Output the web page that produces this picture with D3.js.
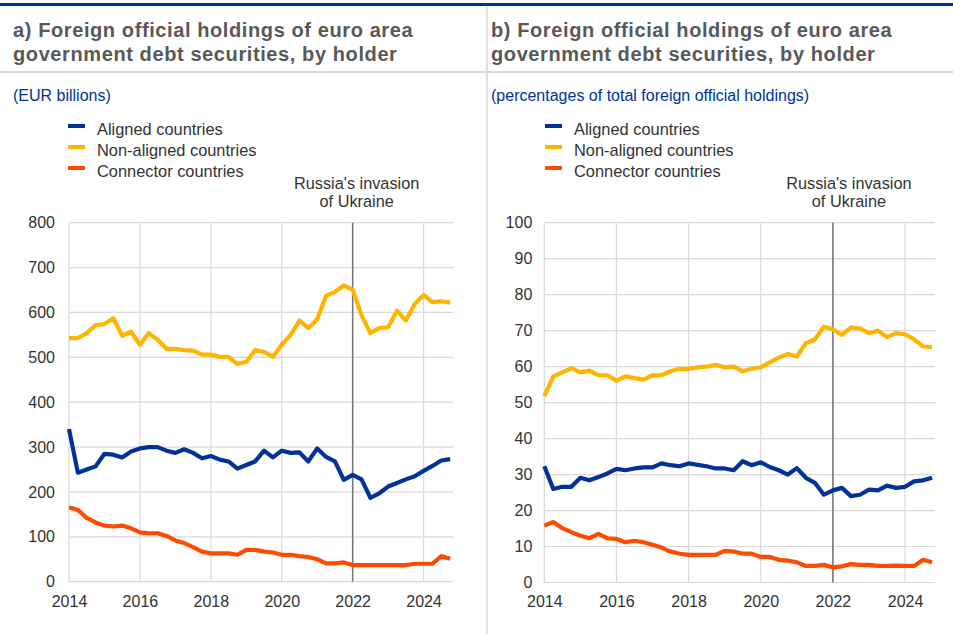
<!DOCTYPE html>
<html>
<head>
<meta charset="utf-8">
<script src="https://cdn.jsdelivr.net/npm/d3@7"></script>
<style>
body{margin:0;background:#fff;font-family:Arial,"Liberation Sans",sans-serif;}
</style>
</head>
<body>
<svg id="chart" width="953" height="634"></svg>
<script>
// quarterly observations, 2014 Q1 - 2024 Q4
const quarters = [
	"2014Q1","2014Q2","2014Q3","2014Q4","2015Q1","2015Q2","2015Q3","2015Q4",
	"2016Q1","2016Q2","2016Q3","2016Q4","2017Q1","2017Q2","2017Q3","2017Q4",
	"2018Q1","2018Q2","2018Q3","2018Q4","2019Q1","2019Q2","2019Q3","2019Q4",
	"2020Q1","2020Q2","2020Q3","2020Q4","2021Q1","2021Q2","2021Q3","2021Q4",
	"2022Q1","2022Q2","2022Q3","2022Q4","2023Q1","2023Q2","2023Q3","2023Q4",
	"2024Q1","2024Q2","2024Q3","2024Q4"]

const seriesNames = ['Aligned countries','Non-aligned countries','Connector countries']
const seriesColours = ['#003299','#ffb400','#ff4b00']

// panel a) EUR billions
const alignedBn = [340,243,250,257,285,283,277,290,297,300,300,292,287,295,287,275,
	280,272,268,252,260,268,292,277,292,287,288,268,297,278,268,227,
	238,228,187,197,212,220,228,235,247,258,270,273]
const nonAlignedBn = [543,543,554,572,574,587,548,557,528,554,539,519,519,516,515,506,
	506,501,501,485,490,516,512,501,528,550,582,565,585,637,646,660,
	651,594,554,565,567,604,582,619,639,623,625,622]
const connectorBn = [166,160,142,132,125,123,125,119,110,108,108,102,92,86,77,67,
	63,63,63,60,71,71,67,65,60,60,57,55,50,41,41,43,
	37,37,37,37,37,37,37,40,40,40,57,51]

// panel b) percentages of total foreign official holdings
const alignedPct = [32.3,26.0,26.6,26.6,29.1,28.4,29.3,30.3,31.6,31.2,31.7,32.0,32.0,33.1,32.6,32.3,
	33.1,32.7,32.3,31.7,31.7,31.2,33.7,32.6,33.4,32.1,31.2,30.0,31.8,29.1,27.7,24.4,
	25.6,26.3,24.0,24.4,25.8,25.6,26.9,26.3,26.6,28.1,28.4,29.1]
const nonAlignedPct = [51.8,57.3,58.4,59.6,58.4,58.9,57.6,57.6,56.1,57.3,56.8,56.4,57.6,57.6,58.7,59.4,
	59.4,59.8,60.0,60.5,59.8,60.0,58.7,59.4,59.8,61.2,62.5,63.5,62.8,66.5,67.6,71.1,
	70.4,68.8,70.9,70.6,69.3,70.0,68.2,69.3,69.0,67.6,65.6,65.4]
const connectorPct = [15.8,16.8,15.1,14.0,13.0,12.3,13.5,12.3,12.1,11.2,11.6,11.2,10.5,9.7,8.6,8.0,
	7.7,7.7,7.7,7.7,8.8,8.6,8.0,8.0,7.1,7.1,6.3,6.1,5.6,4.6,4.6,4.9,
	4.2,4.5,5.1,4.9,4.9,4.6,4.6,4.7,4.6,4.6,6.3,5.6]

const yearTicks = [2014,2016,2018,2020,2022,2024]
const ticksBn = [0,100,200,300,400,500,600,700,800]
const ticksPct = [0,10,20,30,40,50,60,70,80,90,100]
const invasionYear = 2022
const invasionLabel = ["Russia's invasion","of Ukraine"]

const titleLines = ['Foreign official holdings of euro area','government debt securities, by holder']

function quarterToYear(q){
	return parseInt(q.slice(0,4)) + (parseInt(q.slice(5))-1)/4
}

let svg = d3.select('#chart')

// top rule, header rule, panel separator
svg.append('rect').attr('x',0).attr('y',3).attr('width',953).attr('height',3).attr('fill','#003299')
svg.append('line').attr('x1',0).attr('x2',953).attr('y1',72).attr('y2',72)
	.attr('stroke','#d9d9d9').attr('stroke-width',2)
svg.append('line').attr('x1',487).attr('x2',487).attr('y1',7).attr('y2',634)
	.attr('stroke','#d9d9d9').attr('stroke-width',1.5)

function drawPanel(opts){
	let g = svg.append('g')

	// title
	let title = g.append('text').attr('x',opts.titleX).attr('y',36.5)
		.attr('fill','#595959').attr('font-size','20px').attr('font-weight','bold')
		.attr('letter-spacing','0.6px')
	title.append('tspan').attr('x',opts.titleX).text(opts.letter+') '+titleLines[0])
	title.append('tspan').attr('x',opts.titleX).attr('dy',24).text(titleLines[1])

	g.append('text').attr('x',opts.titleX).attr('y',100.5)
		.attr('fill','#003299').attr('font-size','16px').text(opts.unit)

	let x = d3.scaleLinear().domain([2014,2024.83]).range([opts.x0,opts.x1])
	let y = d3.scaleLinear().domain([0,opts.ticks[opts.ticks.length-1]]).range([opts.yBot,opts.yTop])

	// gridlines
	g.selectAll('.hgrid').data(opts.ticks).enter().append('line')
		.attr('x1',opts.x0).attr('x2',opts.x1)
		.attr('y1',d=>y(d)).attr('y2',d=>y(d))
		.attr('stroke','#d9d9d9').attr('stroke-width',1.2)
	g.selectAll('.vgrid').data(yearTicks).enter().append('line')
		.attr('x1',d=>x(d)).attr('x2',d=>x(d))
		.attr('y1',opts.yTop).attr('y2',opts.yBot)
		.attr('stroke','#d9d9d9').attr('stroke-width',1.2)

	// y axis labels
	let yAxis = d3.axisLeft(y).tickValues(opts.ticks).tickSize(0).tickPadding(0)
	let ya = g.append('g').attr('transform','translate('+(opts.x0-opts.yLabelGap)+',0)').call(yAxis)
	ya.select('.domain').remove()
	ya.selectAll('text').attr('font-size','16px').attr('fill','#333')
		.attr('font-family','Arial,"Liberation Sans",sans-serif')

	// x axis labels
	let xAxis = d3.axisBottom(x).tickValues(yearTicks).tickFormat(d3.format('d')).tickSize(0).tickPadding(0)
	let xa = g.append('g').attr('transform','translate(0,'+(opts.yBot+13.5)+')').call(xAxis)
	xa.select('.domain').remove()
	xa.selectAll('text').attr('font-size','16px').attr('fill','#333')
		.attr('font-family','Arial,"Liberation Sans",sans-serif')

	// invasion marker
	g.append('line').attr('x1',x(invasionYear)).attr('x2',x(invasionYear))
		.attr('y1',opts.yTop).attr('y2',opts.yBot)
		.attr('stroke','#757575').attr('stroke-width',1.5)
	let ann = g.append('text').attr('text-anchor','middle').attr('font-size','16.3px').attr('fill','#333')
		.attr('y',188.5)
	ann.append('tspan').attr('x',x(invasionYear)+opts.annShift).text(invasionLabel[0])
	ann.append('tspan').attr('x',x(invasionYear)+opts.annShift).attr('dy',18).text(invasionLabel[1])

	// lines
	let line = d3.line().x((d,i)=>x(quarterToYear(quarters[i]))).y(d=>y(d))
	let order = [1,2,0]
	order.forEach(function(s){
		g.append('path').attr('d',line(opts.series[s]))
			.attr('fill','none').attr('stroke',seriesColours[s])
			.attr('stroke-width',4.2).attr('stroke-linejoin','round')
	})

	// legend
	seriesNames.forEach(function(name,i){
		let ly = 129 + i*21
		g.append('rect').attr('x',opts.legendX).attr('y',ly-5).attr('width',17).attr('height',4)
			.attr('fill',seriesColours[i])
		g.append('text').attr('x',opts.legendX+29).attr('y',ly+5.8)
			.attr('font-size','16.4px').attr('fill','#333').text(name)
	})
}

drawPanel({
	letter:'a', unit:'(EUR billions)', titleX:13,
	x0:69, x1:453, yTop:222.7, yBot:581.7, ticks:ticksBn,
	series:[alignedBn,nonAlignedBn,connectorBn],
	legendX:68, annShift:4, yLabelGap:14
})

drawPanel({
	letter:'b', unit:'(percentages of total foreign official holdings)', titleX:491,
	x0:544.3, x1:935, yTop:222.7, yBot:582.5, ticks:ticksPct,
	series:[alignedPct,nonAlignedPct,connectorPct],
	legendX:545, annShift:16, yLabelGap:12
})
</script>
</body>
</html>
